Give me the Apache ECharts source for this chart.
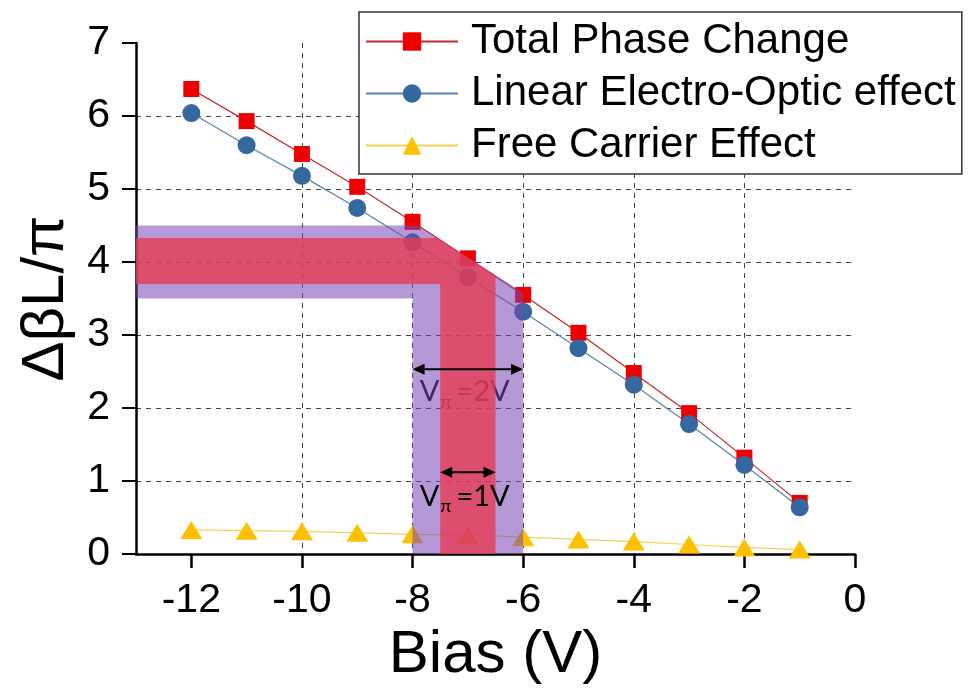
<!DOCTYPE html>
<html>
<head>
<meta charset="utf-8">
<script src="https://cdn.jsdelivr.net/npm/echarts@6/dist/echarts.min.js"></script>
<style>html,body{margin:0;padding:0;background:#fff}#c{width:969px;height:696px}</style>
</head>
<body>
<div id="c"></div>
<script>
// ---- data ----
const bias = [-12, -11, -10, -9, -8, -7, -6, -5, -4, -3, -2, -1];
const totalPhase = [6.37, 5.93, 5.48, 5.03, 4.55, 4.05, 3.55, 3.03, 2.48, 1.93, 1.32, 0.70];
const linearEO = [6.04, 5.60, 5.18, 4.74, 4.27, 3.79, 3.32, 2.82, 2.32, 1.78, 1.22, 0.64];
const freeCarrier = [0.33, 0.32, 0.31, 0.29, 0.27, 0.26, 0.23, 0.20, 0.17, 0.13, 0.09, 0.06];
const seriesNames = ['Total Phase Change', 'Linear Electro-Optic effect', 'Free Carrier Effect'];
const xTicks = [-12, -10, -8, -6, -4, -2, 0];
// shaded regions (data coordinates)
const purpleBand = [[-13, 4.5], [-7.9, 4.5], [-6, 3.58], [-6, 0], [-8, 0], [-8, 3.5], [-13, 3.5]];
const redBand = [[-13, 4.33], [-7.55, 4.33], [-6.5, 3.82], [-6.5, 0], [-7.5, 0], [-7.5, 3.7], [-13, 3.7]];
// annotation arrows [x1, x2, y] and labels [x, y, value]
const arrow2V = [-8, -6, 2.53];
const arrow1V = [-7.5, -6.5, 1.12];
const label2V = [-7.87, 1.96, '2V'];
const label1V = [-7.87, 0.53, '1V'];

const FONT = '"Liberation Sans", Arial, sans-serif';

function pairs(xs, ys) { return xs.map((x, i) => [x, ys[i]]); }

function polySeries(points, color, z) {
  return {
    type: 'custom', z: z, silent: true, legendHoverLink: false,
    data: [0],
    renderItem: function (params, api) {
      return {
        type: 'polygon',
        shape: { points: points.map(p => api.coord(p)) },
        style: { fill: color, stroke: null }
      };
    }
  };
}

function arrowSeries(a, z) {
  return {
    type: 'custom', z: z, silent: true,
    data: [0],
    renderItem: function (params, api) {
      const p1 = api.coord([a[0], a[2]]);
      const p2 = api.coord([a[1], a[2]]);
      const L = 12, H = 5.5;
      return {
        type: 'group',
        children: [
          { type: 'line', shape: { x1: p1[0] + 4, y1: p1[1], x2: p2[0] - 4, y2: p2[1] }, style: { stroke: '#000', lineWidth: 2 } },
          { type: 'polygon', shape: { points: [[p1[0], p1[1]], [p1[0] + L, p1[1] - H], [p1[0] + L, p1[1] + H]] }, style: { fill: '#000' } },
          { type: 'polygon', shape: { points: [[p2[0], p2[1]], [p2[0] - L, p2[1] - H], [p2[0] - L, p2[1] + H]] }, style: { fill: '#000' } }
        ]
      };
    }
  };
}

function labelSeries(l, z) {
  return {
    type: 'custom', z: z, silent: true,
    data: [0],
    renderItem: function (params, api) {
      const p = api.coord([l[0], l[1]]);
      return {
        type: 'text',
        x: p[0], y: p[1],
        style: {
          text: 'V{s|π}=' + l[2],
          fill: '#000',
          font: '29px Lato, "Open Sans", sans-serif',
          verticalAlign: 'bottom',
          rich: { s: { fontSize: 18, fontFamily: 'Lato, sans-serif', fill: '#000', padding: [20, 5, 0, 1] } }
        }
      };
    }
  };
}

const chart = echarts.init(document.getElementById('c'), null, { renderer: 'canvas' });
chart.setOption({
  animation: false,
  backgroundColor: '#fff',
  grid: { left: 136, right: 114, top: 43, bottom: 142, containLabel: false, outerBoundsMode: 'none' },
  xAxis: {
    type: 'value', min: -13, max: 0,
    name: 'Bias (V)', nameLocation: 'middle', nameGap: 70,
    nameTextStyle: { fontFamily: FONT, fontSize: 60, color: '#000' },
    axisLine: { show: true, onZero: false, lineStyle: { color: '#000', width: 2.5 } },
    axisTick: { show: true, inside: false, length: 14, customValues: xTicks, lineStyle: { color: '#000', width: 2.5 } },
    axisLabel: { customValues: xTicks, margin: 26, fontFamily: FONT, fontSize: 41, color: '#000' },
    splitLine: { show: true, showMinLine: false, showMaxLine: false, lineStyle: { color: '#444', type: [5, 5], width: 1 } }
  },
  yAxis: {
    type: 'value', min: 0, max: 7, interval: 1,
    name: 'ΔβL/π', nameLocation: 'middle', nameGap: 58,
    nameTextStyle: { fontFamily: FONT, fontSize: 60, color: '#000' },
    axisLine: { show: true, onZero: false, lineStyle: { color: '#000', width: 2.5 } },
    axisTick: { show: true, inside: false, length: 14, lineStyle: { color: '#000', width: 2 } },
    axisLabel: { margin: 26, fontFamily: FONT, fontSize: 41, color: '#000' },
    splitLine: { show: true, showMinLine: false, showMaxLine: false, lineStyle: { color: '#444', type: [5, 5], width: 1 } }
  },
  legend: {
    data: seriesNames,
    orient: 'vertical',
    left: 359, top: 12,
    padding: [7, 6, 6, 6],
    itemWidth: 92, itemHeight: 23, itemGap: 7,
    borderColor: '#333', borderWidth: 1.5,
    backgroundColor: '#fff',
    textStyle: { fontFamily: FONT, fontSize: 42, color: '#000', lineHeight: 45, padding: [0, 0, 0, 8] },
    z: 20
  },
  series: [
    {
      name: seriesNames[0], type: 'line', z: 3,
      data: pairs(bias, totalPhase),
      symbol: 'rect', symbolSize: 16,
      itemStyle: { color: '#ee0000' },
      lineStyle: { color: '#c0282a', width: 1.2 }
    },
    {
      name: seriesNames[1], type: 'line', z: 3,
      data: pairs(bias, linearEO),
      symbol: 'circle', symbolSize: 18,
      itemStyle: { color: '#35689e' },
      lineStyle: { color: '#5a82ad', width: 1.2 }
    },
    {
      name: seriesNames[2], type: 'line', z: 3,
      data: pairs(bias, freeCarrier),
      symbol: 'triangle', symbolSize: [22, 18],
      itemStyle: { color: '#ffc000' },
      lineStyle: { color: '#f2d25a', width: 1.2 }
    },
    labelSeries(label2V, 4),
    polySeries(purpleBand, 'rgba(120,70,180,0.55)', 5),
    polySeries(redBand, 'rgba(230,59,82,0.8)', 6),
    arrowSeries(arrow2V, 7),
    arrowSeries(arrow1V, 7),
    labelSeries(label1V, 7)
  ]
});
</script>
</body>
</html>
